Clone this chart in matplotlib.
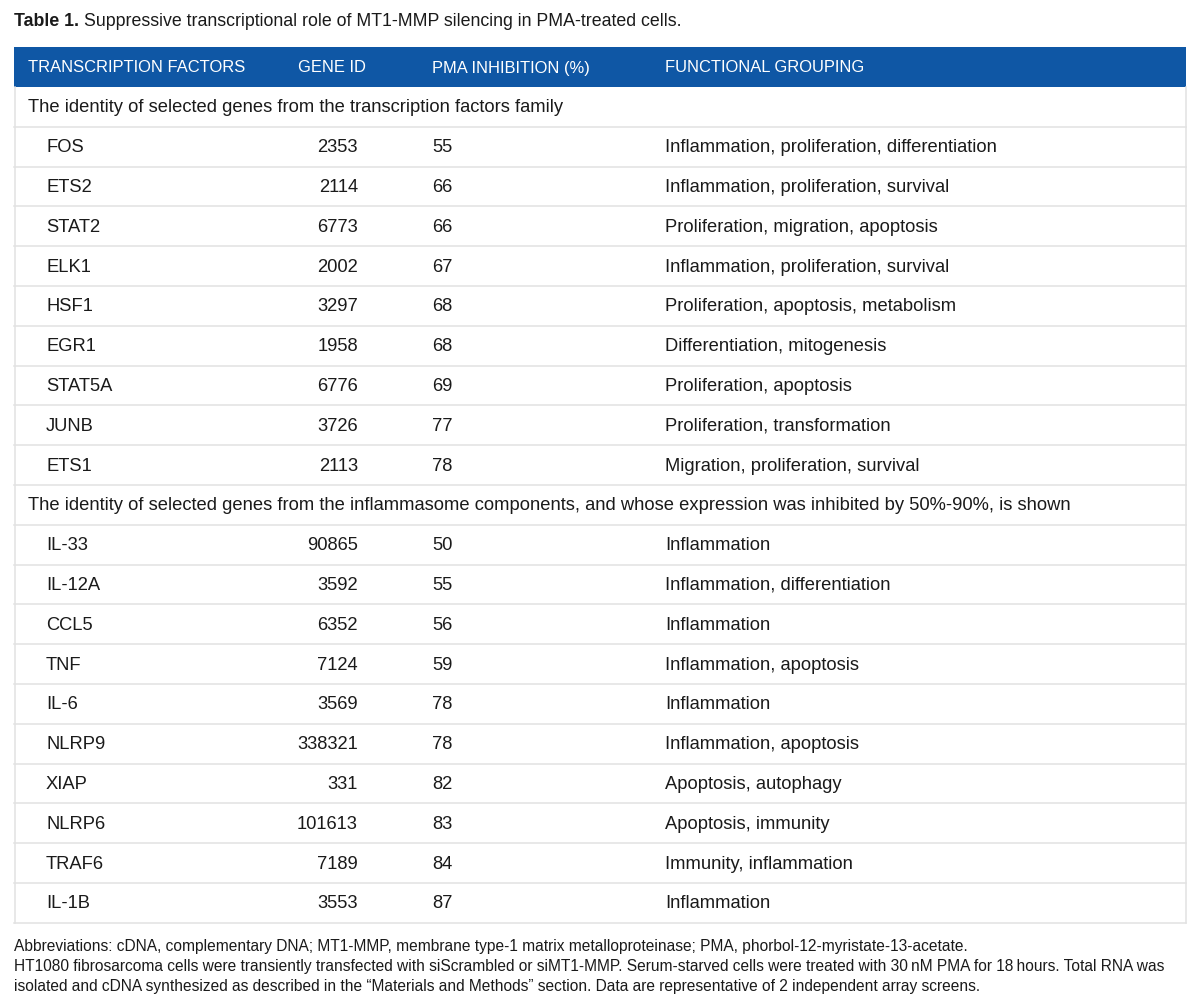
import matplotlib
matplotlib.use("Agg")
import matplotlib.pyplot as plt

plt.rcParams["font.family"] = ["Liberation Sans", "DejaVu Sans"]

# 資料
title_bold = "Table 1."
title_text = "Suppressive transcriptional role of MT1-MMP silencing in PMA-treated cells."
headers = ["TRANSCRIPTION FACTORS", "GENE ID", "PMA INHIBITION (%)", "FUNCTIONAL GROUPING"]

section1 = "The identity of selected genes from the transcription factors family"
tf_names = ["FOS", "ETS2", "STAT2", "ELK1", "HSF1", "EGR1", "STAT5A", "JUNB", "ETS1"]
tf_ids = ["2353", "2114", "6773", "2002", "3297", "1958", "6776", "3726", "2113"]
tf_inhib = ["55", "66", "66", "67", "68", "68", "69", "77", "78"]
tf_groups = [
    "Inflammation, proliferation, differentiation",
    "Inflammation, proliferation, survival",
    "Proliferation, migration, apoptosis",
    "Inflammation, proliferation, survival",
    "Proliferation, apoptosis, metabolism",
    "Differentiation, mitogenesis",
    "Proliferation, apoptosis",
    "Proliferation, transformation",
    "Migration, proliferation, survival",
]

section2 = ("The identity of selected genes from the inflammasome components, "
            "and whose expression was inhibited by 50%-90%, is shown")
inf_names = ["IL-33", "IL-12A", "CCL5", "TNF", "IL-6", "NLRP9", "XIAP", "NLRP6", "TRAF6", "IL-1B"]
inf_ids = ["90865", "3592", "6352", "7124", "3569", "338321", "331", "101613", "7189", "3553"]
inf_inhib = ["50", "55", "56", "59", "78", "78", "82", "83", "84", "87"]
inf_groups = [
    "Inflammation",
    "Inflammation, differentiation",
    "Inflammation",
    "Inflammation, apoptosis",
    "Inflammation",
    "Inflammation, apoptosis",
    "Apoptosis, autophagy",
    "Apoptosis, immunity",
    "Immunity, inflammation",
    "Inflammation",
]

footnotes = [
    "Abbreviations: cDNA, complementary DNA; MT1-MMP, membrane type-1 matrix metalloproteinase; "
    "PMA, phorbol-12-myristate-13-acetate.",
    "HT1080 fibrosarcoma cells were transiently transfected with siScrambled or siMT1-MMP. "
    "Serum-starved cells were treated with 30\u2009nM PMA for 18\u2009hours. Total RNA was",
    "isolated and cDNA synthesized as described in the \u201cMaterials and Methods\u201d section. "
    "Data are representative of 2 independent array screens.",
]

# 版面
W, H = 1200, 1007
fig = plt.figure(figsize=(W / 100, H / 100), dpi=100)
ax = fig.add_axes([0, 0, 1, 1])
ax.set_xlim(0, W)
ax.set_ylim(H, 0)
ax.axis("off")

BLUE = "#0f57a5"
LINE = "#e2e2e2"
TXT = "#1a1a1a"
left, right = 14, 1186
head_top, head_bot = 47, 87
row_h = 39.8
fs = 13.2

# 標題
t = ax.text(left, 21, title_bold, fontsize=12.8, fontweight="bold", color=TXT, va="center")
fig.canvas.draw()
bb = t.get_window_extent()
ax.text(bb.x1 + 5, 21, title_text, fontsize=12.8, color=TXT, va="center")

# 表頭
ax.add_patch(plt.Rectangle((left, head_top), right - left, head_bot - head_top,
                           color=BLUE, lw=0))
head_x = [28, 298, 432, 665]
for x, h in zip(head_x, headers):
    ax.text(x, (head_top + head_bot) / 2 + 1, h, color="white", fontsize=11.9, va="center")

# 列
rows = [("section", section1)]
rows += [("data", r) for r in zip(tf_names, tf_ids, tf_inhib, tf_groups)]
rows += [("section", section2)]
rows += [("data", r) for r in zip(inf_names, inf_ids, inf_inhib, inf_groups)]

y = head_bot
for kind, r in rows:
    yc = y + row_h / 2 + 1
    if kind == "section":
        ax.text(28, yc, r, fontsize=fs, color=TXT, va="center")
    else:
        name, gid, inh, grp = r
        ax.text(46, yc, name, fontsize=fs, color=TXT, va="center")
        ax.text(358, yc, gid, fontsize=fs, color=TXT, va="center", ha="right")
        ax.text(432, yc, inh, fontsize=fs, color=TXT, va="center")
        ax.text(665, yc, grp, fontsize=fs, color=TXT, va="center")
    y += row_h
    ax.plot([left, right], [y, y], color=LINE, lw=1.1)

table_bot = y
ax.plot([left + 0.5, left + 0.5], [head_bot, table_bot], color=LINE, lw=1.1)
ax.plot([right - 0.5, right - 0.5], [head_bot, table_bot], color=LINE, lw=1.1)

# 註腳
foot_family = ["Liberation Sans Narrow", "Liberation Sans", "DejaVu Sans"]
for i, line in enumerate(footnotes):
    ax.text(left, 946 + i * 20, line, fontsize=11.2, color=TXT, va="center",
            family=foot_family)

fig.savefig("out.png", dpi=100, facecolor="white")
plt.close(fig)
